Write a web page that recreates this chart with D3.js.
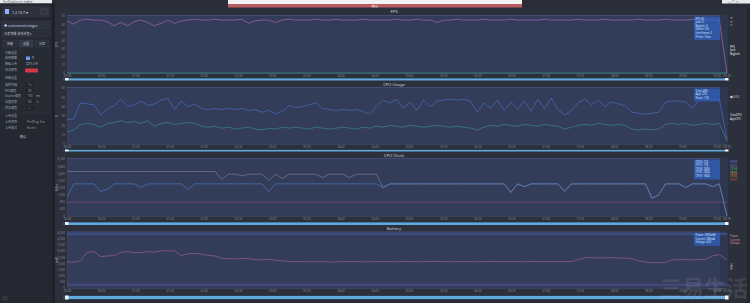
<!DOCTYPE html>
<html><head><meta charset="utf-8">
<script src="https://cdn.jsdelivr.net/npm/d3@7"></script>
<style>
html,body{margin:0;padding:0;background:#2a2d36;overflow:hidden}
svg{display:block}
</style></head>
<body>
<svg id="c" width="750" height="303" font-family="'Noto Sans','Noto Sans CJK SC',sans-serif"></svg>
<script>
// ---------------- DATA ----------------
const sampleStep = 5.9;        // seconds between samples
const endTime = 579;           // session end
const timeTicks = [0,30,60,90,120,150,180,210,240,270,300,330,360,390,420,450,480,510,540,570];

const fpsTicks = [0,10,20,30,40,50,60,70];
const cpuTicks = [0,10,20,30,40,50,60];
const clockTicks = [0,400,800,1200,1600,2000,2400,2800,3200];
const batteryTicks = [0,500,1000,1500,2000,2500,3000,3500,4000,4500];

const fps = [64,60,65,66,65,65,63,58,62,58, 63,65,62,58,61,65,61,64,65,66,
  65,65,66,65,65,65,66,61,64,65, 65,62,65,66,65,65,65,66,65,65,
  66,65,65,65,66,65,65,65,65,66, 65,65,66,65,65,62,65,65,66,65,
  65,65,66,65,65,65,66,65,65,65, 65,66,65,65,65,65,66,65,65,65,
  66,65,65,65,65,66,65,65,65,66, 65,65,65,66,65,65,65,65, 0];
const jank = [0,0];
const jankTimes = [0,579];

const cpuTotal = [26,27,44,43,42,31,38,41,48,40, 42,46,41,43,47,49,37,46,40,43,
  38,37,38,37,38,37,38,36,37,34, 36,32,35,41,39,40,42,44,38,37,
  36,37,36,37,35,32,40,47,44,48, 38,45,36,47,40,46,47,48,47,48,
  46,34,44,38,47,36,45,37,46,35, 48,38,49,37,31,36,44,48,42,47,
  40,45,43,41,34,33,32,33,34,45, 46,46,45,38,47,48,47,48, 5];
const cpuApp = [13,15,21,22,21,18,22,23,25,23, 24,22,25,19,22,23,21,22,23,22,
  19,18,19,17,18,16,17,18,16,15, 17,16,18,17,18,17,16,18,17,16,
  17,18,17,16,18,17,19,18,20,19, 18,20,19,18,19,20,19,18,19,18,
  17,15,18,20,19,21,20,19,21,20, 19,21,20,19,16,18,20,21,20,22,
  21,20,21,20,16,15,16,15,16,21, 22,21,22,20,21,22,21,22, 3];

const clockBig = [2500,2500,2500,2500,2500,2500,2500,2500,2500,2500, 2500,2500,2500,2500,2500,2500,2500,2500,2500,2500,
  2500,2500,2500,2050,2350,2350,2250,2350,2350,2350, 2000,2350,2100,2350,2350,2350,2350,2350,2150,2350,
  2350,2350,2150,2350,2350,2350,2350,1600,1804,1804, 1804,1804,1804,1804,1804,1804,1804,1804,1804,1804,
  1804,1804,1804,1804,1804,1804,1325,1804,1650,1804, 1804,1804,1804,1804,1380,1804,1804,1804,1804,1804,
  1804,1804,1804,1804,1804,1804,1804,993,1200,1804, 1804,1804,1600,1804,1804,1804,1650,1804, 0];
const clockMid = [1050,1804,1804,1804,1804,1380,1500,1804,1804,1804, 1804,1600,1804,1804,1804,1804,1804,1804,1490,1804,
  1804,1804,1804,1804,1804,1804,1804,1804,1804,1804, 1380,1804,1804,1804,1804,1804,1804,1804,1804,1804,
  1804,1804,1804,1804,1804,1804,1804,1600,1804,1804, 1804,1804,1804,1804,1804,1804,1804,1804,1804,1804,
  1804,1804,1804,1804,1804,1804,1325,1804,1650,1804, 1804,1804,1804,1804,1380,1804,1804,1804,1804,1804,
  1804,1804,1804,1804,1804,1804,1804,993,1200,1804, 1804,1804,1600,1804,1804,1804,1650,1804, 0];
const clockLittle = [774,774,774];
const clockLittleTimes = [0,572,579];

const batteryPower = [2127,2100,2200,2900,2950,2536,2600,2620,2900,2950, 2860,2880,2950,2900,3030,3000,3020,2620,2780,2800,
  2750,2640,2600,2400,2380,2350,2400,2380,2300,2290, 2320,2250,2200,2150,2130,2150,2120,2130,2150,2100,
  2120,2130,2140,2150,2120,2130,2140,2150,2140,2130, 2150,2140,2130,2140,2150,2160,2140,2130,2140,2150,
  2140,2130,2140,2150,2140,2130,2150,2140,2130,2150, 2140,2140,2150,2130,2140,2150,2300,2450,2460,2440,
  2450,2460,2430,2420,2380,2200,2100,2050,2060,2050, 2300,2290,2300,2280,2300,2320,2600,2700, 2300];
const batteryVoltage = [4380,4380];
const batteryCurrent = [260,260];
const batteryFlatTimes = [0,579];

// ---------------- DRAW ----------------
const svg = d3.select("#c");
const sampleTimes = fps.slice(0, -1).map((d,i)=>i*sampleStep).concat([endTime]);
const x = d3.scaleLinear().domain([0, endTime]).range([67, 727]);
const fmt = s => String(Math.floor(s/60)).padStart(2,"0")+":"+String(Math.round(s%60)).padStart(2,"0");

svg.append("rect").attr("width",750).attr("height",303).attr("fill","#2a2d36");

// title bar pieces and Stop button
svg.append("rect").attr("x",0).attr("y",0).attr("width",52).attr("height",3.5).attr("fill","#e8eaee");
svg.append("text").attr("x",3).attr("y",2.8).attr("font-size",2.8).attr("fill","#556").text("PerfDogService 性能狗");
svg.append("rect").attr("x",228).attr("y",0).attr("width",294).attr("height",4).attr("fill","#f2f2f4");
svg.append("rect").attr("x",228).attr("y",4).attr("width",294).attr("height",5.5).attr("fill","#b85b60");
svg.append("text").attr("x",375).attr("y",8).attr("font-size",3.6).attr("fill","#fff").attr("text-anchor","middle").text("停止");
svg.append("rect").attr("x",722).attr("y",0).attr("width",28).attr("height",3.5).attr("fill","#e8eaee");
svg.append("text").attr("x",728).attr("y",3).attr("font-size",3).attr("fill","#555").text("—  □  ✕");

// ---------- sidebar ----------
const sb = svg.append("g");
sb.append("rect").attr("x",0).attr("y",3.5).attr("width",52).attr("height",300).attr("fill","#252830");
sb.append("rect").attr("x",52).attr("y",3.5).attr("width",3).attr("height",300).attr("fill","#1f2128");
sb.append("rect").attr("x",2).attr("y",6).attr("width",48).attr("height",11).attr("fill","#2e323d");
sb.append("rect").attr("x",5).attr("y",9).attr("width",4).attr("height",5).attr("fill","#8fb4ff");
sb.append("text").attr("x",12).attr("y",13.5).attr("font-size",3.6).attr("fill","#dde").text("1.2.13.7 ▾");
sb.append("rect").attr("x",41).attr("y",9).attr("width",6).attr("height",5).attr("fill","none").attr("stroke","#667").attr("stroke-width",0.4);
sb.append("rect").attr("x",2).attr("y",21).attr("width",48).attr("height",8).attr("fill","#2e3340").attr("stroke","#3f4452").attr("stroke-width",0.4);
sb.append("text").attr("x",4).attr("y",26.5).attr("font-size",3.2).attr("fill","#cfd6ee").text("◆ com.tencent.tmgp ▾");
sb.append("rect").attr("x",2).attr("y",31).attr("width",48).attr("height",6).attr("fill","#2a2e38").attr("stroke","#3f4452").attr("stroke-width",0.4);
sb.append("text").attr("x",4).attr("y",35.3).attr("font-size",3.1).attr("fill","#b8bccb").text("王者荣耀 游戏进程  ▾");
[["性能",3],["设置",19],["分享",35]].forEach(([t,x0],i)=>{
  sb.append("rect").attr("x",x0).attr("y",40).attr("width",14).attr("height",7)
    .attr("fill", i===1?"#353a48":"#2b2f3a").attr("stroke","#424757").attr("stroke-width",0.4);
  sb.append("text").attr("x",x0+7).attr("y",44.8).attr("font-size",3.1).attr("fill","#c4c8d4").attr("text-anchor","middle").text(t);
});
sb.append("rect").attr("x",2).attr("y",49).attr("width",48).attr("height",64).attr("fill","#262a33").attr("stroke","#353a46").attr("stroke-width",0.4);
const lbl = (t,yy,xx=5,c="#9da2b0")=>sb.append("text").attr("x",xx).attr("y",yy).attr("font-size",3).attr("fill",c).text(t);
lbl("功能设置",53.5);
lbl("启用截图",59); sb.append("rect").attr("x",26).attr("y",56.5).attr("width",4).attr("height",3.5).attr("fill","#6b9cf5"); lbl("开",59,31.5);
lbl("数据上传",65); lbl("实时上传",65,26);
lbl("标记颜色",71); sb.append("rect").attr("x",25).attr("y",68.5).attr("width",13).attr("height",4).attr("rx",1).attr("fill","#d8344a");
lbl("性能设置",79);
lbl("采样间隔",86); sb.append("rect").attr("x",26).attr("y",83.5).attr("width",8).attr("height",3.5).attr("fill","#1f2229"); lbl("1s",86,28);
lbl("FPS阈值",91.5); sb.append("rect").attr("x",26).attr("y",89).attr("width",8).attr("height",3.5).attr("fill","#1f2229"); lbl("30",91.5,28);
lbl("Stutter阈值",97); sb.append("rect").attr("x",26).attr("y",94.5).attr("width",8).attr("height",3.5).attr("fill","#1f2229"); lbl("100",97,27.5); lbl("ms",97,36);
lbl("温度报警",103); sb.append("rect").attr("x",26).attr("y",100.5).attr("width",8).attr("height",3.5).attr("fill","#1f2229"); lbl("50",103,28); lbl("℃",103,36);
lbl("内存阈值",109); sb.append("rect").attr("x",26).attr("y",106.5).attr("width",8).attr("height",3.5).attr("fill","#1f2229"); lbl("—",109,28);
lbl("上传设置",117);
lbl("上传项目",123); sb.append("rect").attr("x",26).attr("y",120.5).attr("width",23).attr("height",3.5).attr("fill","#1f2229"); lbl("PerfDog Test",123,27);
lbl("上传格式",128.5); sb.append("rect").attr("x",26).attr("y",126).attr("width",12).attr("height",3.5).attr("fill","#1f2229"); lbl("Excel ▾",128.5,27);
lbl("确认",138,20,"#c8ccd8");
sb.append("rect").attr("x",2).attr("y",296).attr("width",6).attr("height",5).attr("fill","#30343f");

// ---------- panels ----------
function panel(cfg){
  const g = svg.append("g");
  const y = d3.scaleLinear().domain(cfg.domain).range([cfg.bottom, cfg.top]);
  g.append("rect").attr("x",55).attr("y",cfg.titleY-5).attr("width",695).attr("height",cfg.sliderY+4-(cfg.titleY-5)).attr("fill","#2c303b");
  g.append("text").attr("x",394).attr("y",cfg.titleY).attr("font-size",4.2).attr("fill","#d0d4de").attr("text-anchor","middle").text(cfg.title);
  g.append("rect").attr("x",67).attr("y",cfg.top-1).attr("width",653).attr("height",cfg.bottom-cfg.top+1).attr("fill","#333c58");
  g.append("rect").attr("x",720).attr("y",cfg.top-1).attr("width",8).attr("height",cfg.bottom-cfg.top+1).attr("fill","#2f3750");
  g.append("line").attr("x1",67).attr("x2",720).attr("y1",cfg.top-0.5).attr("y2",cfg.top-0.5).attr("stroke","#434c76").attr("stroke-width",1);
  const ya = g.append("g").attr("transform","translate(67,0)").call(d3.axisLeft(y).tickValues(cfg.ticks).tickSize(0).tickPadding(2));
  ya.attr("font-family","'Noto Sans',sans-serif");
  ya.select(".domain").attr("stroke","#3c4255");
  ya.selectAll("text").attr("font-size",3).attr("fill","#80879a");
  g.append("text").attr("transform",`translate(58,${(cfg.top+cfg.bottom)/2}) rotate(-90)`).attr("font-size",3.2)
    .attr("fill","#a4a9b8").attr("text-anchor","middle").text(cfg.unit);
  const xa = g.append("g").attr("transform",`translate(0,${cfg.bottom})`).call(d3.axisBottom(x).tickValues(timeTicks).tickFormat(fmt).tickSize(0).tickPadding(2.2));
  xa.attr("font-family","'Noto Sans',sans-serif");
  xa.select(".domain").attr("stroke","#3c4255");
  xa.selectAll("text").attr("font-size",2.9).attr("fill","#80879a");
  g.append("text").attr("x",x(endTime)).attr("y",cfg.bottom+4.2).attr("font-size",2.9).attr("fill","#80879a").attr("text-anchor","middle").text(fmt(endTime));
  cfg.series.forEach(s=>{
    const ts = s.t || sampleTimes;
    const line = d3.line().x((d,i)=>x(ts[i])).y(d=>y(d));
    g.append("path").datum(s.v).attr("d",line).attr("fill","none").attr("stroke",s.color)
      .attr("stroke-width",s.w||0.6).attr("stroke-opacity",s.op||1).attr("stroke-linejoin","round");
  });
  const lb = cfg.legendBox;
  g.append("rect").attr("x",694).attr("y",cfg.top+0.5).attr("width",26).attr("height",lb.length*3.6+2).attr("fill","#2f63c4").attr("fill-opacity",0.7);
  lb.forEach((t,i)=>g.append("text").attr("x",695.5).attr("y",cfg.top+3.6+i*3.6).attr("font-size",2.6).attr("fill","#d4e0ff").text(t));
  cfg.side.forEach((s,i)=>{ if(s[0]) g.append("text").attr("x",730).attr("y",cfg.sideY+i*3.6).attr("font-size",2.8).attr("fill",s[1]).text(s[0]); });
  g.append("rect").attr("x",63).attr("y",cfg.sliderY-0.5).attr("width",665).attr("height",4).attr("fill","#2a4a6c");
  g.append("rect").attr("x",67).attr("y",cfg.sliderY).attr("width",660).attr("height",3).attr("fill","#62a9dc");
  g.append("rect").attr("x",65).attr("y",cfg.sliderY-0.5).attr("width",3.5).attr("height",4).attr("fill","#f4f6fa");
  g.append("rect").attr("x",725).attr("y",cfg.sliderY-0.5).attr("width",3.5).attr("height",4).attr("fill","#f4f6fa");
  return g;
}

panel({title:"FPS", titleY:12.5, top:16, bottom:73, sliderY:78.5, unit:"FPS", domain:[0,70], ticks:fpsTicks,
  series:[{v:jank,t:jankTimes,color:"#2e9484",w:0.8},{v:fps,color:"#a565b4",w:0.7}],
  legendBox:["FPS: 65","Jank: 0","BigJank: 0","Stutter: 0%","InterFrame: 0","FTime: 15ms"],
  side:[["⊕","#aab"],["⊖","#aab"],["▣","#aab"],["",""],["",""],["",""],["",""],["",""],["FPS","#e6e8f0"],["Jank","#e6e8f0"],["BigJank","#e6e8f0"]], sideY:19});

panel({title:"CPU Usage", titleY:85.5, top:88, bottom:144, sliderY:150, unit:"%", domain:[0,60], ticks:cpuTicks,
  series:[{v:cpuTotal,color:"#4a73c8",w:0.65},{v:cpuApp,color:"#3a8d92",w:0.65}],
  legendBox:["Total: 48%","App: 22%","Norm: 12%"],
  side:[["■ 0:53","#c8ccd8"],["",""],["",""],["",""],["",""],["TotalCPU","#dfe2ea"],["AppCPU","#dfe2ea"]], sideY:98});

panel({title:"CPU Clock", titleY:156.5, top:159, bottom:216, sliderY:222.5, unit:"MHz", domain:[0,3200], ticks:clockTicks,
  series:[{v:clockLittle,t:clockLittleTimes,color:"#7c4a7e",w:0.8},{v:clockBig,color:"#8d879c",w:0.6},{v:clockMid,color:"#4a80cc",w:0.65}],
  legendBox:["CPU0: 774","CPU1: 774","CPU4: 1804","CPU5: 1804","CPU7: 1804"],
  side:[["CPU0","#6f8ff0"],["CPU1","#9a7ae0"],["CPU4","#5fbf7a"],["CPU5","#d8c060"],["CPU6","#e08a50"],["CPU7","#d85a5a"]], sideY:163});

panel({title:"Battery", titleY:230, top:232.5, bottom:288, sliderY:296, unit:"mW", domain:[0,4500], ticks:batteryTicks,
  series:[{v:batteryVoltage,t:batteryFlatTimes,color:"#3f4f86",w:2.6,op:0.9},{v:batteryCurrent,t:batteryFlatTimes,color:"#47487e",w:2.6,op:0.9},{v:batteryPower,color:"#9d6486",w:0.65}],
  legendBox:["Power: 2300mW","Current: 580mA","Voltage: 4.0V"],
  side:[["Power","#d48aa8"],["Current","#d48aa8"],["Voltage","#d48aa8"],["",""],["",""],["",""],["",""],["",""],["▦","#c8ccd8"],["▦","#c8ccd8"]], sideY:237});

svg.append("rect").attr("x",747).attr("y",8).attr("width",3).attr("height",295).attr("fill","#23262e");

// watermark
svg.append("text").attr("x",748).attr("y",296).attr("text-anchor","end").attr("font-size",22)
  .attr("font-family","'Noto Sans CJK SC',sans-serif").attr("font-weight","bold")
  .attr("fill","#ffffff").attr("fill-opacity",0.1).text("三易生活");
</script>
</body></html>
